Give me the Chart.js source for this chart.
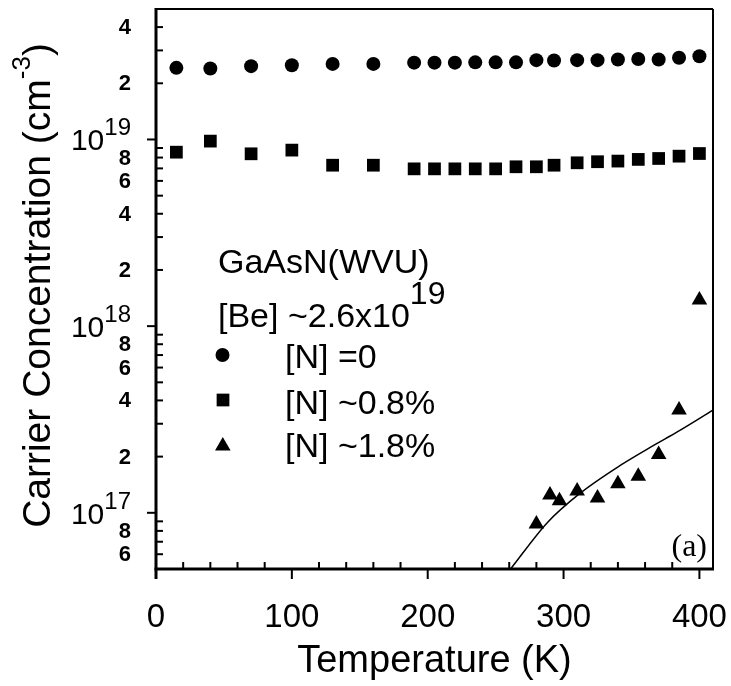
<!DOCTYPE html>
<html>
<head>
<meta charset="utf-8">
<script src="https://cdn.jsdelivr.net/npm/chart.js@4/dist/chart.umd.min.js"></script>
<style>
  html, body { margin: 0; padding: 0; background: #fff; }
  canvas { display: block; }
</style>
</head>
<body>
<canvas id="chart" width="731" height="686"></canvas>
<script>
// Hole concentration of Be-doped GaAsN vs temperature
const temps = [15, 40, 70, 100, 130, 160, 190, 205, 220, 235, 250, 265, 280, 293, 310, 325, 340, 355, 370, 385, 400];
const concN0 = [2.42e19, 2.40e19, 2.47e19, 2.50e19, 2.54e19, 2.54e19, 2.58e19, 2.58e19, 2.58e19, 2.59e19, 2.59e19,
                2.59e19, 2.66e19, 2.65e19, 2.66e19, 2.66e19, 2.68e19, 2.70e19, 2.68e19, 2.74e19, 2.79e19];
const concN08 = [8.55e18, 9.8e18, 8.38e18, 8.77e18, 7.28e18, 7.28e18, 6.96e18, 6.96e18, 6.96e18, 6.96e18, 6.96e18,
                 7.14e18, 7.14e18, 7.28e18, 7.50e18, 7.60e18, 7.66e18, 7.82e18, 7.91e18, 8.14e18, 8.41e18];
const tempsN18 = [280, 290, 297, 310, 325, 340, 355, 370, 385, 400];
const concN18 = [8.7e16, 1.245e17, 1.16e17, 1.31e17, 1.20e17, 1.43e17, 1.57e17, 2.05e17, 3.55e17, 1.38e18];
// fitted curve through the [N] ~1.8% data
const fitTemps = [261, 288, 312, 342, 366, 384, 410];
const fitConc = [5.0e16, 8.85e16, 1.27e17, 1.80e17, 2.29e17, 2.72e17, 3.55e17];

// axis ticks and labels
const xMajorTicks = [0, 100, 200, 300, 400];
const xMajorLabels = ['0', '100', '200', '300', '400'];
const xMinorTicks = [20, 40, 60, 80, 120, 140, 160, 180, 220, 240, 260, 280, 320, 340, 360, 380];
const yDecades = [1e17, 1e18, 1e19];
const yDecadeExponents = ['17', '18', '19'];
const yMinorLabelValues = [6e16, 8e16, 2e17, 4e17, 6e17, 8e17, 2e18, 4e18, 6e18, 8e18, 2e19, 4e19];
const yMinorLabelTexts = ['6', '8', '2', '4', '6', '8', '2', '4', '6', '8', '2', '4'];
const yMin = 5e16, yMax = 5e19, xMin = 0, xMax = 410;

const legendTitle = 'GaAsN(WVU)';
const legendDoping = '[Be] ~2.6x10';
const legendDopingExp = '19';
const seriesNames = ['[N] =0', '[N] ~0.8%', '[N] ~1.8%'];

const SANS = '"Liberation Sans", Arial, sans-serif';
const SERIF = '"Liberation Serif", "Times New Roman", serif';

function pts(xs, ys) { return xs.map((t, i) => ({ x: t, y: ys[i] })); }

function drawMarker(ctx, style, x, y, r) {
  ctx.beginPath();
  if (style === 'circle') {
    ctx.arc(x, y, r, 0, Math.PI * 2);
  } else if (style === 'rect') {
    const s = Math.SQRT1_2 * r;
    ctx.rect(x - s, y - s, 2 * s, 2 * s);
  } else {
    ctx.moveTo(x, y - r);
    ctx.lineTo(x + r * Math.sin(2 * Math.PI / 3), y - r * Math.cos(2 * Math.PI / 3));
    ctx.lineTo(x + r * Math.sin(4 * Math.PI / 3), y - r * Math.cos(4 * Math.PI / 3));
    ctx.closePath();
  }
  ctx.fill();
}

const decorations = {
  id: 'decorations',
  afterDraw(chart) {
    const { ctx, chartArea: a, scales: { x, y } } = chart;
    ctx.save();
    ctx.strokeStyle = '#000';
    ctx.fillStyle = '#000';
    ctx.lineCap = 'butt';
    const seg = (x1, y1, x2, y2, w) => {
      ctx.lineWidth = w;
      ctx.beginPath(); ctx.moveTo(x1, y1); ctx.lineTo(x2, y2); ctx.stroke();
    };

    // frame: heavy left/bottom axes, light top/right borders
    seg(a.left, a.top, a.right, a.top, 2);
    seg(a.right, a.top, a.right, a.bottom, 2);
    seg(a.left, a.top - 1, a.left, a.bottom + 10, 3);
    seg(a.left - 1.5, a.bottom, a.right + 1, a.bottom, 3);

    // x ticks: majors point outward, minors inward
    xMajorTicks.forEach(v => {
      const px = x.getPixelForValue(v);
      seg(px, a.bottom, px, a.bottom + 10, 2);
    });
    xMinorTicks.forEach(v => {
      const px = x.getPixelForValue(v);
      seg(px, a.bottom, px, a.bottom - 7, 2);
    });

    // y ticks: decades outward, every integer multiple inward
    yDecades.forEach(v => {
      const py = y.getPixelForValue(v);
      seg(a.left - 9, py, a.left, py, 2);
    });
    for (let e = 16; e <= 19; e++) {
      for (let m = 2; m <= 9; m++) {
        const v = m * Math.pow(10, e);
        if (v <= yMin || v >= yMax) continue;
        const py = y.getPixelForValue(v);
        seg(a.left, py, a.left + 7, py, 2);
      }
    }

    // x tick labels
    ctx.font = '33px ' + SANS;
    ctx.textAlign = 'center';
    ctx.textBaseline = 'alphabetic';
    xMajorTicks.forEach((v, i) => {
      ctx.fillText(xMajorLabels[i], x.getPixelForValue(v), a.bottom + 58);
    });

    // y tick labels
    const labelRight = a.left - 25;
    ctx.textAlign = 'right';
    ctx.textBaseline = 'middle';
    ctx.font = 'bold 22px ' + SANS;
    yMinorLabelValues.forEach((v, i) => {
      ctx.fillText(yMinorLabelTexts[i], labelRight, y.getPixelForValue(v) + 1);
    });
    ctx.textBaseline = 'alphabetic';
    yDecades.forEach((v, i) => {
      const py = y.getPixelForValue(v);
      ctx.font = '24px ' + SANS;
      const wExp = ctx.measureText(yDecadeExponents[i]).width;
      ctx.textAlign = 'left';
      ctx.fillText(yDecadeExponents[i], labelRight - wExp, py - 4);
      ctx.font = '30px ' + SANS;
      ctx.textAlign = 'right';
      ctx.fillText('10', labelRight - wExp, py + 11);
    });

    // axis titles
    ctx.textAlign = 'center';
    ctx.font = '38px ' + SANS;
    ctx.fillText('Temperature (K)', (a.left + a.right) / 2, 672);

    ctx.save();
    ctx.translate(50, 285.5);
    ctx.rotate(-Math.PI / 2);
    ctx.textAlign = 'left';
    const main = 'Carrier Concentration (cm', sup = '-3', tail = ')';
    ctx.font = '39px ' + SANS;
    const w1 = ctx.measureText(main).width, w3 = ctx.measureText(tail).width;
    ctx.font = '26px ' + SANS;
    const w2 = ctx.measureText(sup).width;
    const x0 = -(w1 + w2 + w3) / 2;
    ctx.font = '39px ' + SANS;
    ctx.fillText(main, x0, 0);
    ctx.fillText(tail, x0 + w1 + w2, 0);
    ctx.font = '26px ' + SANS;
    ctx.fillText(sup, x0 + w1, -20);
    ctx.restore();

    // legend block
    ctx.textAlign = 'left';
    ctx.font = '34px ' + SANS;
    ctx.fillText(legendTitle, 218, 273);
    ctx.fillText(legendDoping, 218, 327);
    const wDop = ctx.measureText(legendDoping).width;
    ctx.font = '32px ' + SANS;
    ctx.fillText(legendDopingExp, 218 + wDop, 304);
    ctx.font = '34px ' + SANS;
    const rowBase = [368, 414, 457];
    seriesNames.forEach((name, i) => ctx.fillText(name, 285, rowBase[i]));
    drawMarker(ctx, 'circle', 222.5, 355, 7);
    drawMarker(ctx, 'rect', 223, 400, 9);
    drawMarker(ctx, 'triangle', 222.8, 446, 9);

    // panel tag
    ctx.textAlign = 'right';
    ctx.font = '32px ' + SERIF;
    ctx.fillText('(a)', 707, 556);

    ctx.restore();
  }
};

new Chart(document.getElementById('chart'), {
  type: 'scatter',
  data: {
    datasets: [
      { label: seriesNames[0], data: pts(temps, concN0), pointStyle: 'circle', pointRadius: 7,
        backgroundColor: '#000', borderColor: '#000', borderWidth: 0, showLine: false },
      { label: seriesNames[1], data: pts(temps, concN08), pointStyle: 'rect', pointRadius: 9,
        backgroundColor: '#000', borderColor: '#000', borderWidth: 0, showLine: false },
      { label: seriesNames[2], data: pts(tempsN18, concN18), pointStyle: 'triangle', pointRadius: 9,
        backgroundColor: '#000', borderColor: '#000', borderWidth: 0, showLine: false },
      { label: 'fit', data: pts(fitTemps, fitConc), showLine: true, pointRadius: 0,
        borderColor: '#000', borderWidth: 1.5, cubicInterpolationMode: 'monotone', fill: false }
    ]
  },
  options: {
    responsive: false,
    animation: false,
    devicePixelRatio: 1,
    layout: { padding: { left: 156, top: 9, right: 18, bottom: 117 } },
    plugins: { legend: { display: false }, tooltip: { enabled: false } },
    scales: {
      x: { type: 'linear', min: xMin, max: xMax,
           ticks: { display: false }, grid: { display: false, drawTicks: false }, border: { display: false } },
      y: { type: 'logarithmic', min: yMin, max: yMax,
           ticks: { display: false }, grid: { display: false, drawTicks: false }, border: { display: false } }
    }
  },
  plugins: [decorations]
});
</script>
</body>
</html>
